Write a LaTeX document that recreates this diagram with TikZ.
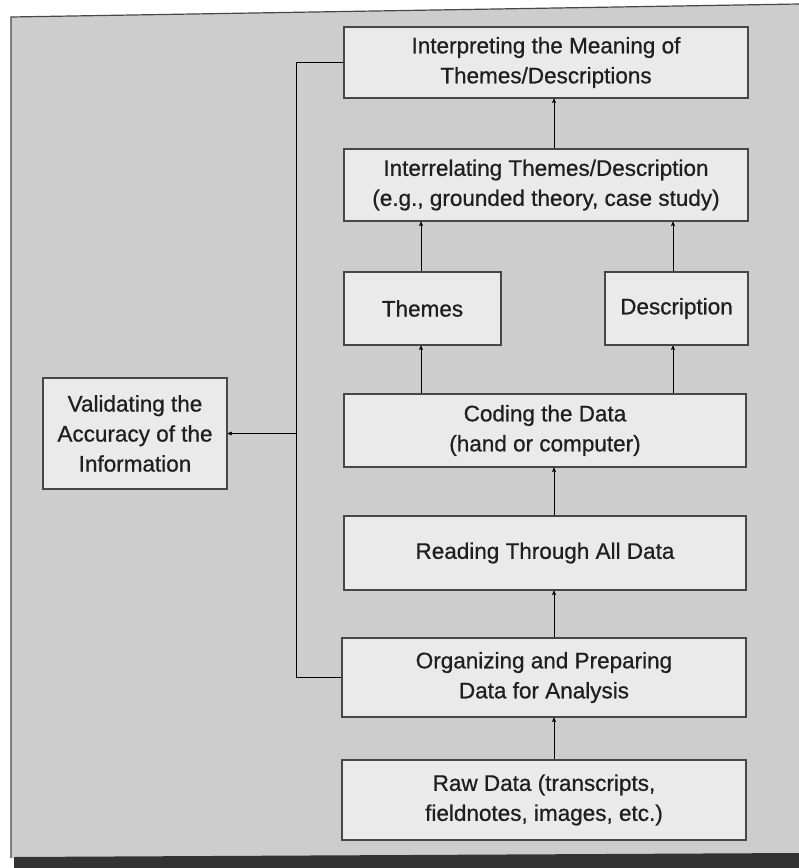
\documentclass[tikz,border=0pt]{standalone}
\usepackage{fontspec}
\setmainfont{Liberation Sans}[BoldFont=Liberation Sans, BoldFeatures={FakeBold=0.7}]
\usepackage{xcolor}
\usepackage{tikz}
\usetikzlibrary{
    arrows,
    calc
}
\definecolor{panelgray}{HTML}{CDCDCD}
\definecolor{boxgray}{HTML}{EAEAEA}
\definecolor{linegray}{HTML}{474747}

\begin{document}
\begin{tikzpicture}[x=1pt,y=-1pt,->,>=stealth',semithick]
    \tikzstyle{every node}=[font=\fontsize{22.5}{30}\selectfont\bfseries, text=black!88]
    \tikzstyle{stagebox}=[shape=rectangle, draw=linegray, line width=1.3pt, fill=boxgray, align=center, inner sep=0pt]
    \useasboundingbox (0,0) rectangle (799,868);
    % page and panel
    \fill[white] (0,0) rectangle (799,868);
    \fill[panelgray] (11,17) -- (799,4) -- (799,858) -- (11,858) -- cycle;
    \draw[-,linegray,line width=1.2pt] (11,858) -- (11,17) -- (799,4);
    \fill[black!80] (14,857) -- (799,853) -- (799,868) -- (14,868) -- cycle;

	\node[stagebox, minimum width=404, minimum height=71] (interp) at (546, 62.5) {Interpreting the Meaning of\\ Themes/Descriptions};
	\node[stagebox, minimum width=404, minimum height=72] (interrel) at (546, 185) {Interrelating Themes/Description\\ (e.g., grounded theory, case study)};

	\node[stagebox, minimum width=157, minimum height=73] (themes) at (422.5, 308.5) {Themes};
	\node[stagebox, minimum width=143, minimum height=73] (desc) at (676.5, 308.5) {Description};

	\node[stagebox, minimum width=402, minimum height=73] (coding) at (545, 430.5) {Coding the Data\\ (hand or computer)};
	\node[stagebox, minimum width=402, minimum height=74] (reading) at (545, 553) {Reading Through All Data};
	\node[stagebox, minimum width=404, minimum height=79] (organizing) at (544, 677.5) {Organizing and Preparing\\ Data for Analysis};
	\node[stagebox, minimum width=404, minimum height=80] (raw) at (544, 800) {Raw Data (transcripts,\\ fieldnotes, images, etc.)};

	\node[stagebox, minimum width=184, minimum height=111] (valid) at (135, 433.5) {Validating the\\ Accuracy of the\\ Information};

	\coordinate (spine) at (554, 0);
	\coordinate (lspine) at (421, 0);
	\coordinate (rspine) at (673, 0);
	\coordinate (fb) at (296, 0);

	\draw [->] (raw.north -| spine) -- (organizing.south -| spine);
	\draw [->] (organizing.north -| spine) -- (reading.south -| spine);
	\draw [->] (reading.north -| spine) -- (coding.south -| spine);
	\draw [->] (coding.north -| lspine) -- (themes.south -| lspine);
	\draw [->] (coding.north -| rspine) -- (desc.south -| rspine);
	\draw [->] (themes.north -| lspine) -- (interrel.south -| lspine);
	\draw [->] (desc.north -| rspine) -- (interrel.south -| rspine);
	\draw [->] (interrel.north -| spine) -- (interp.south -| spine);

	\draw [-] (interp.west) -- (interp.west -| fb) -- (organizing.west -| fb) -- (organizing.west);
	\draw [->] (valid.east -| fb) -- (valid.east);
    \end{tikzpicture}
\end{document}
